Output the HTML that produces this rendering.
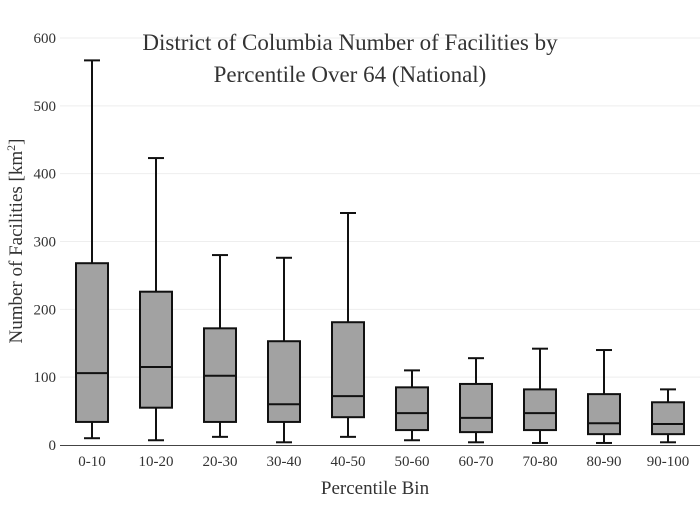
<!DOCTYPE html>
<html><head><meta charset="utf-8"><style>
body{margin:0;background:#fff;}
svg{font-family:"Liberation Serif",serif;}
</style></head><body>
<svg id="chart" width="700" height="500">
<rect width="700" height="500" fill="#fff"/>
<g id="grid"></g>
<g id="boxes"></g>
<g id="axes"></g>
<text x="350" y="50" font-size="23" text-anchor="middle" fill="#333">District of Columbia Number of Facilities by</text>
<text x="350" y="82" font-size="23" text-anchor="middle" fill="#333">Percentile Over 64 (National)</text>
<text x="375" y="494" font-size="19" text-anchor="middle" fill="#333">Percentile Bin</text>
<text transform="translate(22,241) rotate(-90)" font-size="19" text-anchor="middle" fill="#333">Number of Facilities  [km<tspan baseline-shift="super" font-size="12">2</tspan>]</text>
</svg>
<script>
const categories=["0-10","10-20","20-30","30-40","40-50","50-60","60-70","70-80","80-90","90-100"];
const mins=[10,7,12,4,12,7,4,3,3,4];
const q1s=[34,55,34,34,41,22,19,22,16,16];
const medians=[106,115,102,60,72,47,40,47,32,31];
const q3s=[268,226,172,153,181,85,90,82,75,63];
const maxs=[567,423,280,276,342,110,128,142,140,82];
const yTicks=[0,100,200,300,400,500,600];
const NS="http://www.w3.org/2000/svg";
const x0=60,x1=700,yb=445,yt=38,ymax=600;
const y=v=>yb-(v/ymax)*(yb-yt);
const step=(x1-x0)/categories.length;
const xc=i=>x0+step*(i+0.5);
function mk(t,a,p){const e=document.createElementNS(NS,t);for(const k in a)e.setAttribute(k,a[k]);p.appendChild(e);return e;}
const grid=document.getElementById('grid'),axes=document.getElementById('axes'),boxes=document.getElementById('boxes');
yTicks.forEach(v=>{
 if(v>0){const g=mk('line',{x1:x0,x2:x1,y1:y(v),y2:y(v),stroke:'#eee','stroke-width':1},grid);
 
 }
 const t=mk('text',{x:x0-4,y:y(v)+5,'font-size':15,'text-anchor':'end',fill:'#333'},axes);t.textContent=v;
 
 
});
const ax=mk('line',{x1:x0,x2:x1,y1:yb+0.5,y2:yb+0.5,stroke:'#444','stroke-width':1},axes);


const bw=32,cw=16;
categories.forEach((c,i)=>{
 const cx=xc(i);
 const g=mk('g',{},boxes);
 
 
 const st={stroke:'#111','stroke-width':2,fill:'none'};
 mk('line',Object.assign({x1:cx,x2:cx,y1:y(maxs[i]),y2:y(q3s[i])},st),g);
 mk('line',Object.assign({x1:cx,x2:cx,y1:y(q1s[i]),y2:y(mins[i])},st),g);
 mk('line',Object.assign({x1:cx-cw/2,x2:cx+cw/2,y1:y(maxs[i]),y2:y(maxs[i])},st),g);
 mk('line',Object.assign({x1:cx-cw/2,x2:cx+cw/2,y1:y(mins[i]),y2:y(mins[i])},st),g);
 mk('rect',{x:cx-bw/2,y:y(q3s[i]),width:bw,height:y(q1s[i])-y(q3s[i]),fill:'#a2a2a2',stroke:'#111','stroke-width':2},g);
 mk('line',Object.assign({x1:cx-bw/2,x2:cx+bw/2,y1:y(medians[i]),y2:y(medians[i])},st),g);
 const t=mk('text',{x:cx,y:466,'font-size':15,'text-anchor':'middle',fill:'#333'},axes);t.textContent=c;
 
 
});
</script>
</body></html>
